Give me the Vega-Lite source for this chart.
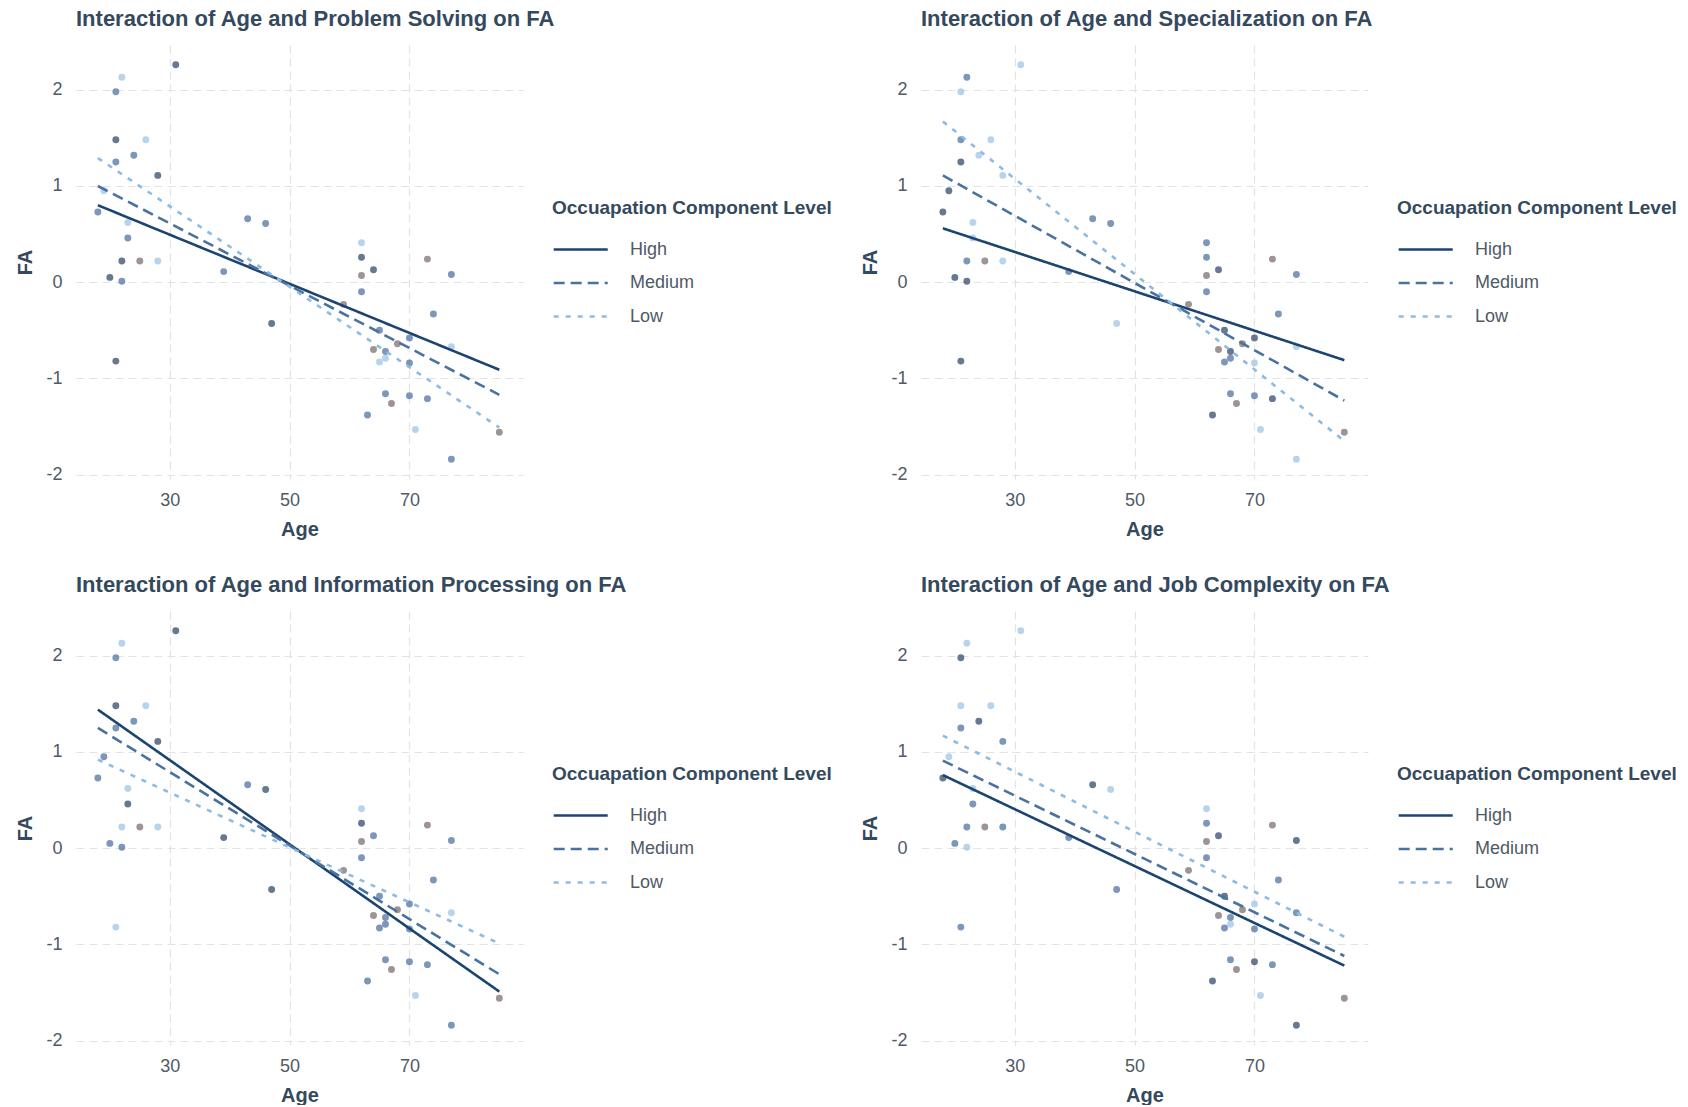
{
  "$schema": "https://vega.github.io/schema/vega-lite/v6.json",
  "background": "white",
  "padding": {"left": 15, "top": 8, "right": 0, "bottom": 0},
  "datasets": {
    "points": [
      {"age": 31, "fa": 2.26, "c1": "d", "c2": "l", "c3": "d", "c4": "l"},
      {"age": 22, "fa": 2.13, "c1": "l", "c2": "m", "c3": "l", "c4": "l"},
      {"age": 21, "fa": 1.98, "c1": "m", "c2": "l", "c3": "m", "c4": "d"},
      {"age": 21, "fa": 1.48, "c1": "d", "c2": "m", "c3": "d", "c4": "l"},
      {"age": 26, "fa": 1.48, "c1": "l", "c2": "l", "c3": "l", "c4": "l"},
      {"age": 24, "fa": 1.32, "c1": "m", "c2": "l", "c3": "m", "c4": "d"},
      {"age": 21, "fa": 1.25, "c1": "m", "c2": "d", "c3": "m", "c4": "m"},
      {"age": 28, "fa": 1.11, "c1": "d", "c2": "l", "c3": "d", "c4": "m"},
      {"age": 19, "fa": 0.95, "c1": "l", "c2": "d", "c3": "m", "c4": "l"},
      {"age": 18, "fa": 0.73, "c1": "m", "c2": "d", "c3": "m", "c4": "d"},
      {"age": 23, "fa": 0.62, "c1": "l", "c2": "l", "c3": "l", "c4": "l"},
      {"age": 23, "fa": 0.46, "c1": "m", "c2": "l", "c3": "d", "c4": "m"},
      {"age": 43, "fa": 0.66, "c1": "m", "c2": "m", "c3": "m", "c4": "d"},
      {"age": 46, "fa": 0.61, "c1": "m", "c2": "m", "c3": "d", "c4": "l"},
      {"age": 22, "fa": 0.22, "c1": "d", "c2": "m", "c3": "l", "c4": "m"},
      {"age": 25, "fa": 0.22, "c1": "g", "c2": "g", "c3": "g", "c4": "g"},
      {"age": 28, "fa": 0.22, "c1": "l", "c2": "l", "c3": "l", "c4": "m"},
      {"age": 39, "fa": 0.11, "c1": "m", "c2": "m", "c3": "d", "c4": "m"},
      {"age": 20, "fa": 0.05, "c1": "d", "c2": "d", "c3": "m", "c4": "m"},
      {"age": 22, "fa": 0.01, "c1": "m", "c2": "d", "c3": "m", "c4": "l"},
      {"age": 21, "fa": -0.82, "c1": "d", "c2": "d", "c3": "l", "c4": "m"},
      {"age": 47, "fa": -0.43, "c1": "d", "c2": "l", "c3": "d", "c4": "m"},
      {"age": 62, "fa": 0.41, "c1": "l", "c2": "m", "c3": "l", "c4": "l"},
      {"age": 62, "fa": 0.26, "c1": "d", "c2": "m", "c3": "d", "c4": "m"},
      {"age": 64, "fa": 0.13, "c1": "d", "c2": "d", "c3": "m", "c4": "d"},
      {"age": 62, "fa": 0.07, "c1": "g", "c2": "g", "c3": "g", "c4": "g"},
      {"age": 62, "fa": -0.10, "c1": "m", "c2": "m", "c3": "m", "c4": "m"},
      {"age": 73, "fa": 0.24, "c1": "g", "c2": "g", "c3": "g", "c4": "g"},
      {"age": 77, "fa": 0.08, "c1": "m", "c2": "m", "c3": "m", "c4": "d"},
      {"age": 74, "fa": -0.33, "c1": "m", "c2": "m", "c3": "m", "c4": "m"},
      {"age": 59, "fa": -0.23, "c1": "g", "c2": "g", "c3": "g", "c4": "g"},
      {"age": 65, "fa": -0.50, "c1": "m", "c2": "d", "c3": "m", "c4": "d"},
      {"age": 70, "fa": -0.58, "c1": "m", "c2": "d", "c3": "m", "c4": "l"},
      {"age": 68, "fa": -0.64, "c1": "g", "c2": "g", "c3": "g", "c4": "g"},
      {"age": 64, "fa": -0.70, "c1": "g", "c2": "g", "c3": "g", "c4": "g"},
      {"age": 66, "fa": -0.72, "c1": "m", "c2": "d", "c3": "m", "c4": "m"},
      {"age": 66, "fa": -0.79, "c1": "l", "c2": "m", "c3": "m", "c4": "l"},
      {"age": 65, "fa": -0.83, "c1": "l", "c2": "m", "c3": "m", "c4": "m"},
      {"age": 70, "fa": -0.84, "c1": "m", "c2": "l", "c3": "m", "c4": "m"},
      {"age": 77, "fa": -0.67, "c1": "l", "c2": "l", "c3": "l", "c4": "m"},
      {"age": 66, "fa": -1.16, "c1": "m", "c2": "m", "c3": "m", "c4": "m"},
      {"age": 67, "fa": -1.26, "c1": "g", "c2": "g", "c3": "g", "c4": "g"},
      {"age": 70, "fa": -1.18, "c1": "m", "c2": "m", "c3": "m", "c4": "d"},
      {"age": 73, "fa": -1.21, "c1": "m", "c2": "d", "c3": "m", "c4": "m"},
      {"age": 63, "fa": -1.38, "c1": "m", "c2": "d", "c3": "m", "c4": "d"},
      {"age": 71, "fa": -1.53, "c1": "l", "c2": "l", "c3": "l", "c4": "l"},
      {"age": 85, "fa": -1.56, "c1": "g", "c2": "g", "c3": "g", "c4": "g"},
      {"age": 77, "fa": -1.84, "c1": "m", "c2": "l", "c3": "m", "c4": "d"}
    ],
    "lines": [
      {"panel": 1, "level": "High", "age": 18, "fa": 0.80},
      {"panel": 1, "level": "High", "age": 85, "fa": -0.91},
      {"panel": 1, "level": "Medium", "age": 18, "fa": 1.00},
      {"panel": 1, "level": "Medium", "age": 85, "fa": -1.17},
      {"panel": 1, "level": "Low", "age": 18, "fa": 1.29},
      {"panel": 1, "level": "Low", "age": 85, "fa": -1.51},
      {"panel": 2, "level": "High", "age": 18, "fa": 0.56},
      {"panel": 2, "level": "High", "age": 85, "fa": -0.81},
      {"panel": 2, "level": "Medium", "age": 18, "fa": 1.11},
      {"panel": 2, "level": "Medium", "age": 85, "fa": -1.23},
      {"panel": 2, "level": "Low", "age": 18, "fa": 1.67},
      {"panel": 2, "level": "Low", "age": 85, "fa": -1.65},
      {"panel": 3, "level": "High", "age": 18, "fa": 1.44},
      {"panel": 3, "level": "High", "age": 85, "fa": -1.49},
      {"panel": 3, "level": "Medium", "age": 18, "fa": 1.25},
      {"panel": 3, "level": "Medium", "age": 85, "fa": -1.31},
      {"panel": 3, "level": "Low", "age": 18, "fa": 0.92},
      {"panel": 3, "level": "Low", "age": 85, "fa": -0.99},
      {"panel": 4, "level": "High", "age": 18, "fa": 0.76},
      {"panel": 4, "level": "High", "age": 85, "fa": -1.22},
      {"panel": 4, "level": "Medium", "age": 18, "fa": 0.91},
      {"panel": 4, "level": "Medium", "age": 85, "fa": -1.12},
      {"panel": 4, "level": "Low", "age": 18, "fa": 1.17},
      {"panel": 4, "level": "Low", "age": 85, "fa": -0.92}
    ]
  },
  "columns": 2,
  "spacing": {"row": 35, "column": 28},
  "resolve": {"scale": {"color": "independent", "strokeDash": "independent", "fill": "independent"}},
  "concat": [
    {
      "title": "Interaction of Age and Problem Solving on FA",
      "width": 447, "height": 434,
      "layer": [
        {
          "data": {"name": "points"},
          "mark": {"type": "circle", "size": 48, "opacity": 0.72},
          "encoding": {
            "x": {"field": "age", "type": "quantitative", "title": "Age", "scale": {"domain": [14.35, 88.95], "nice": false, "zero": false}, "axis": {"values": [30, 50, 70]}},
            "y": {"field": "fa", "type": "quantitative", "title": "FA", "scale": {"domain": [-2.045, 2.465], "nice": false, "zero": false}, "axis": {"values": [-2, -1, 0, 1, 2], "labelExpr": "datum.value < 0 ? '-' + abs(datum.value) : '' + datum.value"}},
            "fill": {"field": "c1", "type": "nominal", "scale": {"domain": ["d", "m", "l", "g"], "range": ["#2b4565", "#4a6fa0", "#9cc3e6", "#7a6b6b"]}, "legend": null}
          }
        },
        {
          "data": {"name": "lines"},
          "transform": [{"filter": "datum.panel == 1"}],
          "mark": {"type": "line", "strokeWidth": 2.6},
          "encoding": {
            "x": {"field": "age", "type": "quantitative"},
            "y": {"field": "fa", "type": "quantitative"},
            "color": {"field": "level", "type": "nominal", "title": "Occuapation Component Level", "scale": {"domain": ["High", "Medium", "Low"], "range": ["#1c4470", "#4a72a0", "#8cbbe3"]}},
            "strokeDash": {"field": "level", "type": "nominal", "title": "Occuapation Component Level", "scale": {"domain": ["High", "Medium", "Low"], "range": [[1, 0], [11, 6], [5, 7]]}}
          }
        }
      ]
    },
    {
      "title": "Interaction of Age and Specialization on FA",
      "width": 447, "height": 434,
      "layer": [
        {
          "data": {"name": "points"},
          "mark": {"type": "circle", "size": 48, "opacity": 0.72},
          "encoding": {
            "x": {"field": "age", "type": "quantitative", "title": "Age", "scale": {"domain": [14.35, 88.95], "nice": false, "zero": false}, "axis": {"values": [30, 50, 70]}},
            "y": {"field": "fa", "type": "quantitative", "title": "FA", "scale": {"domain": [-2.045, 2.465], "nice": false, "zero": false}, "axis": {"values": [-2, -1, 0, 1, 2], "labelExpr": "datum.value < 0 ? '-' + abs(datum.value) : '' + datum.value"}},
            "fill": {"field": "c2", "type": "nominal", "scale": {"domain": ["d", "m", "l", "g"], "range": ["#2b4565", "#4a6fa0", "#9cc3e6", "#7a6b6b"]}, "legend": null}
          }
        },
        {
          "data": {"name": "lines"},
          "transform": [{"filter": "datum.panel == 2"}],
          "mark": {"type": "line", "strokeWidth": 2.6},
          "encoding": {
            "x": {"field": "age", "type": "quantitative"},
            "y": {"field": "fa", "type": "quantitative"},
            "color": {"field": "level", "type": "nominal", "title": "Occuapation Component Level", "scale": {"domain": ["High", "Medium", "Low"], "range": ["#1c4470", "#4a72a0", "#8cbbe3"]}},
            "strokeDash": {"field": "level", "type": "nominal", "title": "Occuapation Component Level", "scale": {"domain": ["High", "Medium", "Low"], "range": [[1, 0], [11, 6], [5, 7]]}}
          }
        }
      ]
    },
    {
      "title": "Interaction of Age and Information Processing on FA",
      "width": 447, "height": 434,
      "layer": [
        {
          "data": {"name": "points"},
          "mark": {"type": "circle", "size": 48, "opacity": 0.72},
          "encoding": {
            "x": {"field": "age", "type": "quantitative", "title": "Age", "scale": {"domain": [14.35, 88.95], "nice": false, "zero": false}, "axis": {"values": [30, 50, 70]}},
            "y": {"field": "fa", "type": "quantitative", "title": "FA", "scale": {"domain": [-2.045, 2.465], "nice": false, "zero": false}, "axis": {"values": [-2, -1, 0, 1, 2], "labelExpr": "datum.value < 0 ? '-' + abs(datum.value) : '' + datum.value"}},
            "fill": {"field": "c3", "type": "nominal", "scale": {"domain": ["d", "m", "l", "g"], "range": ["#2b4565", "#4a6fa0", "#9cc3e6", "#7a6b6b"]}, "legend": null}
          }
        },
        {
          "data": {"name": "lines"},
          "transform": [{"filter": "datum.panel == 3"}],
          "mark": {"type": "line", "strokeWidth": 2.6},
          "encoding": {
            "x": {"field": "age", "type": "quantitative"},
            "y": {"field": "fa", "type": "quantitative"},
            "color": {"field": "level", "type": "nominal", "title": "Occuapation Component Level", "scale": {"domain": ["High", "Medium", "Low"], "range": ["#1c4470", "#4a72a0", "#8cbbe3"]}},
            "strokeDash": {"field": "level", "type": "nominal", "title": "Occuapation Component Level", "scale": {"domain": ["High", "Medium", "Low"], "range": [[1, 0], [11, 6], [5, 7]]}}
          }
        }
      ]
    },
    {
      "title": "Interaction of Age and Job Complexity on FA",
      "width": 447, "height": 434,
      "layer": [
        {
          "data": {"name": "points"},
          "mark": {"type": "circle", "size": 48, "opacity": 0.72},
          "encoding": {
            "x": {"field": "age", "type": "quantitative", "title": "Age", "scale": {"domain": [14.35, 88.95], "nice": false, "zero": false}, "axis": {"values": [30, 50, 70]}},
            "y": {"field": "fa", "type": "quantitative", "title": "FA", "scale": {"domain": [-2.045, 2.465], "nice": false, "zero": false}, "axis": {"values": [-2, -1, 0, 1, 2], "labelExpr": "datum.value < 0 ? '-' + abs(datum.value) : '' + datum.value"}},
            "fill": {"field": "c4", "type": "nominal", "scale": {"domain": ["d", "m", "l", "g"], "range": ["#2b4565", "#4a6fa0", "#9cc3e6", "#7a6b6b"]}, "legend": null}
          }
        },
        {
          "data": {"name": "lines"},
          "transform": [{"filter": "datum.panel == 4"}],
          "mark": {"type": "line", "strokeWidth": 2.6},
          "encoding": {
            "x": {"field": "age", "type": "quantitative"},
            "y": {"field": "fa", "type": "quantitative"},
            "color": {"field": "level", "type": "nominal", "title": "Occuapation Component Level", "scale": {"domain": ["High", "Medium", "Low"], "range": ["#1c4470", "#4a72a0", "#8cbbe3"]}},
            "strokeDash": {"field": "level", "type": "nominal", "title": "Occuapation Component Level", "scale": {"domain": ["High", "Medium", "Low"], "range": [[1, 0], [11, 6], [5, 7]]}}
          }
        }
      ]
    }
  ],
  "config": {
    "font": "Liberation Sans",
    "view": {"stroke": null},
    "axis": {"domain": false, "ticks": false, "tickSize": 0, "grid": true, "gridColor": "#e3e3e3", "gridDash": [8, 5], "gridWidth": 1.2, "labelFontSize": 18, "labelColor": "#4f5a66", "titleFontSize": 20, "titleFontWeight": "bold", "titleColor": "#34495e"},
    "axisX": {"labelPadding": 12, "titlePadding": 10},
    "axisY": {"labelPadding": 14, "titlePadding": 10},
    "legend": {"orient": "none", "legendX": 476, "legendY": 154, "titleFontSize": 19, "titleFontWeight": "bold", "titleColor": "#34495e", "titlePadding": 19, "labelFontSize": 18, "labelColor": "#4f5a66", "symbolType": "M-1,0L4,0", "symbolSize": 467, "symbolStrokeWidth": 2.6, "labelOffset": 53, "rowPadding": 11.5, "titleLimit": 400},
    "title": {"fontSize": 22, "fontWeight": "bold", "color": "#34495e", "anchor": "start", "frame": "group", "offset": 14}
  }
}
